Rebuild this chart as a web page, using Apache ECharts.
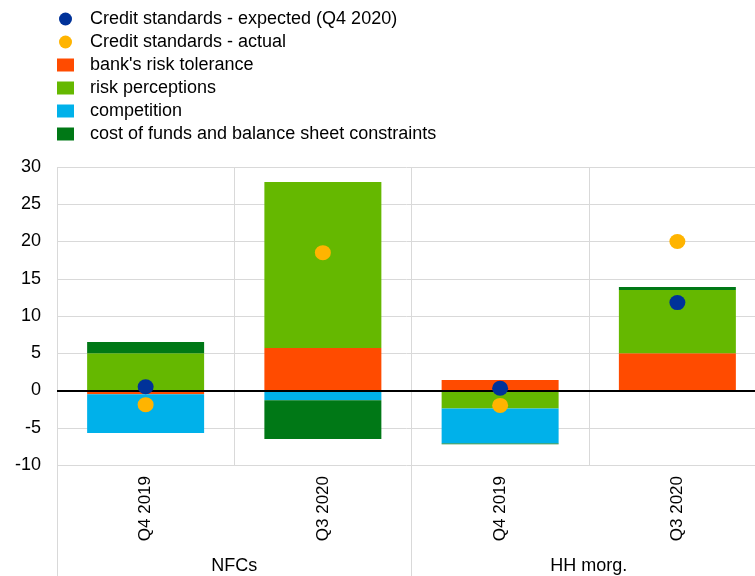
<!DOCTYPE html>
<html>
<head>
<meta charset="utf-8">
<script src="https://cdn.jsdelivr.net/npm/echarts@6/dist/echarts.min.js"></script>
<style>
  html, body { margin: 0; padding: 0; background: #fff; }
  #main { width: 755px; height: 576px; }
</style>
</head>
<body>
<div id="main"></div>
<script>
var quarters = ['Q4 2019', 'Q3 2020', 'Q4 2019', 'Q3 2020'],
    groups = ['NFCs', 'HH morg.'],
    yTicks = { min: -10, max: 30, step: 5 },
    riskTolerance = [-0.5, 5.7, 1.4, 5.0],
    riskPerceptions = [5.0, 22.3, -2.4, 8.5],
    competition = [-5.2, -1.3, -4.7, 0],
    costOfFunds = [1.5, -5.2, -0.1, 0.4],
    expected = [0.5, null, 0.3, 11.8],
    actual = [-1.9, 18.5, -2.0, 20.0];

var font = 'Liberation Sans, Arial, sans-serif',
    gridColor = '#d9d9d9',
    // ellipse path: stretches to the symbol box, like the slightly wide dots of the original
    dot = 'path://M0,1a1,1 0 1,0 2,0a1,1 0 1,0 -2,0z',
    myChart = echarts.init(document.getElementById('main'));

function barSeries(name, data, color) {
    return {
        name: name,
        type: 'bar',
        stack: 'factors',
        data: data,
        barWidth: '66%',
        itemStyle: { color: color },
        xAxisIndex: 0
    };
}

var bars = [
    barSeries("bank's risk tolerance", riskTolerance, '#ff4b00'),
    barSeries('risk perceptions', riskPerceptions, '#65b800'),
    barSeries('competition', competition, '#00b1ea'),
    barSeries('cost of funds and balance sheet constraints', costOfFunds, '#007816')
];

// black zero line
bars[0].markLine = {
    silent: true,
    symbol: 'none',
    label: { show: false },
    lineStyle: { color: '#000', width: 2, type: 'solid' },
    data: [{ yAxis: 0 }]
};

var option = {
    animation: false,
    textStyle: { fontFamily: font },
    legend: {
        orient: 'vertical',
        left: 57,
        top: 10,
        padding: 0,
        itemWidth: 17,
        itemHeight: 13,
        itemGap: 5,
        textStyle: { fontSize: 18, color: '#000', lineHeight: 18, padding: [0, 0, 0, 11] },
        data: [
            { name: 'Credit standards - expected (Q4 2020)', icon: dot },
            { name: 'Credit standards - actual', icon: dot },
            { name: "bank's risk tolerance", icon: 'rect' },
            { name: 'risk perceptions', icon: 'rect' },
            { name: 'competition', icon: 'rect' },
            { name: 'cost of funds and balance sheet constraints', icon: 'rect' }
        ]
    },
    // the plot runs a little past the right edge of the picture
    grid: { left: 57, width: 709, top: 167, bottom: 111, outerBoundsMode: 'none', containLabel: false },
    xAxis: [{
        type: 'category',
        data: quarters,
        axisLine: { show: false },
        axisTick: { show: false },
        axisLabel: { show: false },
        splitLine: { show: true, interval: 0, lineStyle: { color: gridColor, width: 1 } }
    }, {
        type: 'category',
        data: quarters,
        position: 'bottom',
        axisLine: { show: false, onZero: false },
        axisTick: { show: false },
        axisLabel: { rotate: 90, margin: 11, fontSize: 17, color: '#000', interval: 0 },
        splitLine: { show: false }
    }, {
        type: 'category',
        data: groups,
        position: 'bottom',
        axisLine: { show: false, onZero: false },
        axisTick: { show: true, interval: 0, length: 111, lineStyle: { color: gridColor } },
        axisLabel: { margin: 92, fontSize: 18, color: '#000', interval: 0 },
        splitLine: { show: false }
    }],
    yAxis: {
        type: 'value',
        min: yTicks.min,
        max: yTicks.max,
        interval: yTicks.step,
        axisLine: { show: false },
        axisTick: { show: false },
        axisLabel: { fontSize: 18, color: '#000', margin: 16 },
        splitLine: { lineStyle: { color: gridColor, width: 1 } }
    },
    series: bars.concat([{
        name: 'Credit standards - expected (Q4 2020)',
        type: 'scatter',
        data: expected,
        symbol: dot,
        symbolSize: [16, 15],
        itemStyle: { color: '#003299', opacity: 1 },
        z: 5
    }, {
        name: 'Credit standards - actual',
        type: 'scatter',
        data: actual,
        symbol: dot,
        symbolSize: [16, 15],
        itemStyle: { color: '#ffb400', opacity: 1 },
        z: 5
    }])
};

myChart.setOption(option);
</script>
</body>
</html>
